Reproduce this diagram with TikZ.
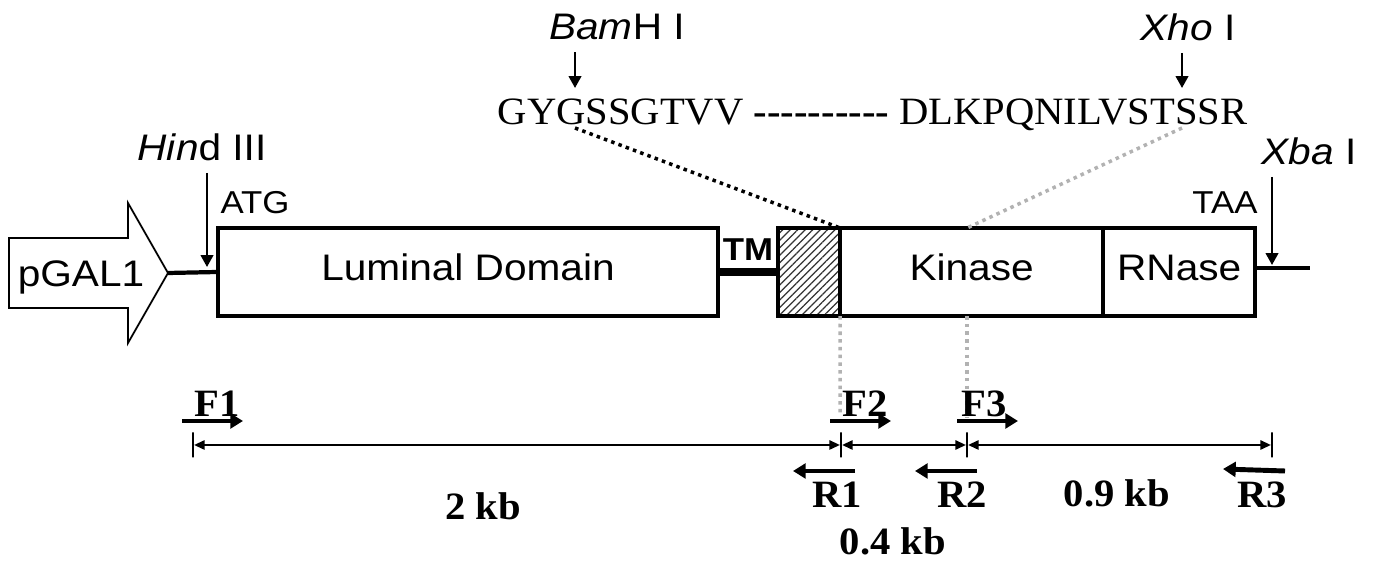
\documentclass[tikz,border=0pt]{standalone}
\usepackage{fontspec}
\setmainfont{Liberation Serif}[FakeStretch=1.05]
\setsansfont{Liberation Sans}[FakeStretch=1.1]
\usetikzlibrary{
    arrows.meta,
    positioning,
    calc,
    patterns.meta
}
\newcommand{\lblfont}{\sffamily\fontsize{10.5}{12.5}\selectfont}
\newcommand{\codonfont}{\sffamily\fontsize{9}{11}\selectfont}
\newcommand{\tmfont}{\sffamily\bfseries\fontsize{9}{11}\selectfont}
\newcommand{\aafont}{\rmfamily\fontsize{11}{13}\selectfont}
\newcommand{\primerfont}{\rmfamily\bfseries\fontsize{11}{13}\selectfont}
\newcommand{\hy}{-\kern0pt}
\tikzset{
    % --- Gene domain box ---
    genebox/.style = {
        rectangle, draw, line width=1.2pt, outer sep=0pt,
        minimum height=0.88cm, inner sep=0pt, text depth=2.5pt,
        font=\lblfont
    },
    % --- Hatched segment next to TM ---
    hatched/.style = {
        genebox,
        pattern={Lines[angle=45, distance=1.5pt, line width=0.35pt]},
        pattern color=black!80
    },
    % --- Plasmid backbone / linker ---
    backbone/.style = {line width=1.2pt},
    tm line/.style = {line width=2.3pt},
    % --- Restriction site arrow ---
    cut arrow/.style = {
        -{Triangle[length=3.4pt, width=3.6pt]}, line width=0.6pt
    },
    site/.style = {font=\lblfont},
    codon label/.style = {font=\codonfont},
    % --- Primer arrows and labels ---
    primer/.style = {
        -{Triangle[length=3.6pt, width=4.2pt]}, line width=1.4pt
    },
    primer label/.style = {font=\primerfont},
    size label/.style = {font=\primerfont},
    % --- Fragment length line ---
    dim line/.style = {
        {Triangle[length=3pt, width=2.6pt]}-{Triangle[length=3pt, width=2.6pt]},
        line width=0.6pt
    },
    tick/.style = {
        draw, line width=0.6pt, minimum width=0pt,
        minimum height=0.25cm, inner sep=0pt
    },
    % --- Dotted mapping line ---
    map link/.style = {line width=1pt, dash pattern=on 1pt off 1.2pt}
}
\begin{document}
\begin{tikzpicture}[x=0.01cm, y=-0.01cm]
\useasboundingbox (0,0) rectangle (1373,565);

% ---------------------------------------------------------
% Promoter
% ---------------------------------------------------------
\draw[line width=0.5pt] (9,238) -- (128,238) -- (128,203) -- (168,273)
    -- (128,343) -- (128,308) -- (9,308) -- cycle;
\coordinate (pgaltip) at (168,273);
\node[site] (pgal) at (81,277) {pGAL1};

% ---------------------------------------------------------
% Construct domains
% ---------------------------------------------------------
\node[genebox, minimum width=5.0cm] (lum) at (468,272) {Luminal Domain};
\node[hatched, minimum width=0.62cm] (hatch) at (809,272) {};
\node[genebox, minimum width=2.63cm, anchor=west] (kin) at (hatch.east) {Kinase};
\node[genebox, minimum width=1.52cm, anchor=west] (rnase) at (kin.east) {RNase};

\draw[backbone] (pgaltip) -- (lum.west);
\draw[tm line] (lum.east) -- (hatch.west);
\node[font=\tmfont] (tm) at (748,250) {TM};
\coordinate (tail) at (1310,268);
\draw[backbone] (rnase.east |- tail) -- (tail);

\node[codon label] (atg) at (255,203) {ATG};
\node[codon label] (taa) at (1225,203) {TAA};

% ---------------------------------------------------------
% Restriction sites
% ---------------------------------------------------------
\node[site] (hind) at (202,147) {\textit{Hin}d III};
\coordinate (hindcut) at (207,267);
\draw[cut arrow] (hind.south -| hindcut) -- (hindcut);

\node[site] (xba) at (1309,151) {\textit{Xba} I};
\coordinate (xbacut) at (1272,265);
\draw[cut arrow] (xba.south -| xbacut) -- (xbacut);

\node[site] (bam) at (617,27) {\textit{Bam}H I};
\coordinate (bamcut) at (575,88);
\draw[cut arrow] (bam.south -| bamcut) -- (bamcut);

\node[site] (xho) at (1188,27) {\textit{Xho} I};
\coordinate (xhocut) at (1182,88);
\draw[cut arrow] (xho.south -| xhocut) -- (xhocut);

% ---------------------------------------------------------
% Protein sequence at the junctions
% ---------------------------------------------------------
\node[font=\aafont, anchor=base west, inner sep=0pt] (seq) at (497,125)
    {GYGSSGTVV {\bfseries\hy\hy\hy\hy\hy\hy\hy\hy\hy-} DLKPQNILVSTSSR};

\coordinate (bamsite) at (575,128);
\coordinate (xhosite) at (1182,128);
\coordinate (kinmid) at (967,228);
\coordinate (cutA) at (840,416);
\coordinate (cutB) at (967,418);
\draw[map link] (bamsite) -- (hatch.north east);
\draw[map link, gray!60] (xhosite) -- (kinmid);
\draw[map link, gray!60] (kin.south west) -- (cutA);
\draw[map link, gray!60] (kinmid |- kin.south) -- (cutB);

% ---------------------------------------------------------
% Primers
% ---------------------------------------------------------
\foreach \p/\xs/\xl in {F1/182/217, F2/830/865, F3/957/984}{
    \node[primer label] (\p) at (\xl,404) {\p};
    \coordinate (\p a) at (\xs,421);
    \coordinate (\p b) at (\xs+61,421);
    \draw[primer] (\p a) -- (\p b);
}
\foreach \p/\xs/\xl/\ye in {R1/855/837/471, R2/977/962/471, R3/1285/1262/469}{
    \node[primer label] (\p) at (\xl,495) {\p};
    \coordinate (\p a) at (\xs,471);
    \coordinate (\p b) at (\xs-62,\ye);
    \draw[primer] (\p a) -- (\p b);
}

% ---------------------------------------------------------
% PCR fragment sizes
% ---------------------------------------------------------
\foreach \i/\x in {0/193, 1/841, 2/967, 3/1272}
    \node[tick] (t\i) at (\x,445) {};
\draw[dim line] (t0) -- (t1);
\draw[dim line] (t1) -- (t2);
\draw[dim line] (t2) -- (t3);

\node[size label] (kb2) at (483,506) {2 kb};
\node[size label] (kb09) at (1117,493) {0.9 kb};
\node[size label] (kb04) at (893,541) {0.4 kb};

\end{tikzpicture}
\end{document}
